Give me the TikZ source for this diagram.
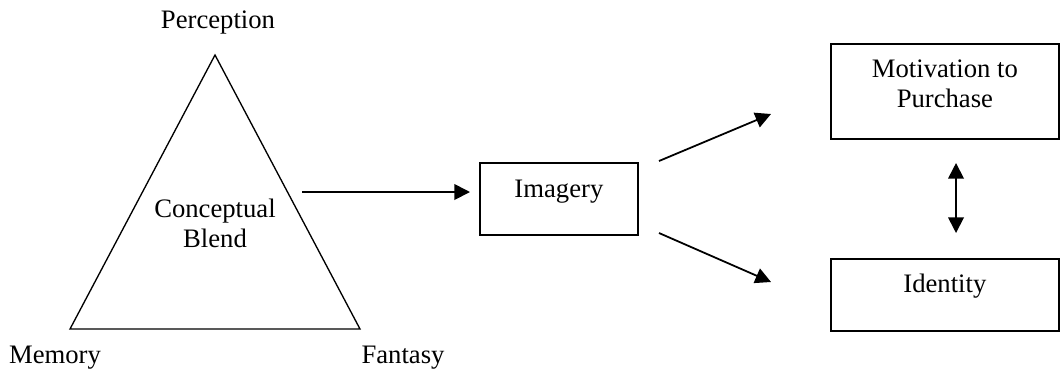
\documentclass[tikz,border=0pt]{standalone}
\usepackage{fontspec}
\setmainfont{Liberation Serif}
\usetikzlibrary{arrows.meta}

\begin{document}
\begin{tikzpicture}[x=0.45pt, y=-0.45pt,
  box/.style={draw, line width=0.8pt, inner sep=0pt, anchor=north west, align=center},
  arr/.style={line width=0.8pt, -{Triangle[length=7pt,width=7pt]}},
  dblarr/.style={line width=0.8pt, {Triangle[length=7pt,width=7pt]}-{Triangle[length=7pt,width=7pt]}},
  lbl/.style={anchor=base, inner sep=0pt}]

\fontsize{12}{13.5}\selectfont
\useasboundingbox (0,0) rectangle (1060,370);

%% triangle
\coordinate (top) at (215,55);
\coordinate (left) at (70,329);
\coordinate (right) at (360,329);
\draw[line width=0.6pt, line join=miter] (top) -- (right) -- (left) -- cycle;

\node[lbl] (perc) at (218,28) {Perception};
\node[lbl] (mem) at (55,363) {Memory};
\node[lbl] (fan) at (403,363) {Fantasy};
\node[lbl, align=center] (blend) at (215,247) {Conceptual\\Blend};

%% boxes
\node[box, minimum width=71.1pt, text height=15.75pt, text depth=16.65pt]
  (img) at (479,162) {Imagery};
\node[box, minimum width=102.6pt, text height=28.8pt, text depth=13.95pt]
  (mot) at (830,43) {Motivation to\\Purchase};
\node[box, minimum width=102.6pt, text height=15.3pt, text depth=17.1pt]
  (ident) at (830,258) {Identity};

%% arrows
\coordinate (a1) at (302,192);
\coordinate (a2) at (470,192);
\coordinate (b1) at (659,161);
\coordinate (b2) at (771,114);
\coordinate (c1) at (659,233);
\coordinate (c2) at (771,282);
\coordinate (d1) at (956,163);
\coordinate (d2) at (956,233);
\draw[arr] (a1) -- (a2);
\draw[arr] (b1) -- (b2);
\draw[arr] (c1) -- (c2);
\draw[dblarr] (d1) -- (d2);

\end{tikzpicture}
\end{document}
